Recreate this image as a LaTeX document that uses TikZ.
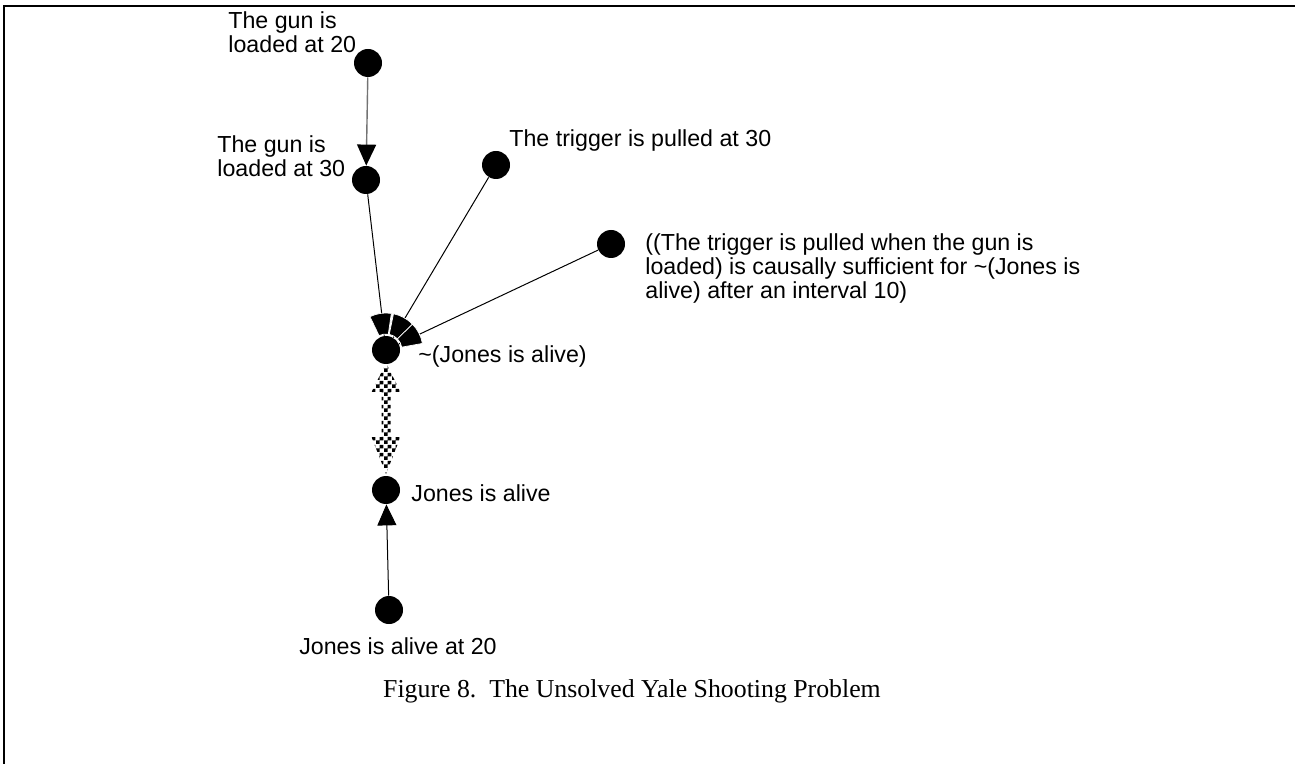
\documentclass[tikz,border=0pt]{standalone}
\usepackage{fontspec}
\setmainfont{Liberation Sans}
\newfontfamily\capfont{Liberation Serif}
\usetikzlibrary{arrows.meta,patterns,calc}
\pgfdeclarepatternformonly{sparsechecker}{\pgfpointorigin}{\pgfqpoint{4pt}{4pt}}{\pgfqpoint{4pt}{4pt}}{%
  \pgfpathrectangle{\pgfpointorigin}{\pgfqpoint{2pt}{2pt}}%
  \pgfpathrectangle{\pgfqpoint{2pt}{2pt}}{\pgfqpoint{2pt}{2pt}}%
  \pgfusepath{fill}}
\begin{document}
\begin{tikzpicture}[x=0.5pt,y=-0.5pt,
  dot/.style={circle,fill=black,minimum size=14pt,inner sep=0pt},
  lbl/.style={inner sep=0pt,font=\fontsize{11.6}{12}\selectfont,align=left},
  link/.style={draw=black,line width=0.5pt},
  graylink/.style={draw=black!55,line width=0.7pt},
  tri/.style={-{Triangle[length=10.5pt,width=9.5pt,color=black]}},
  fan/.style={fill=black,draw=white,line width=0.35pt},
  frameline/.style={line width=1pt}]
\useasboundingbox (0,0) rectangle (1295,764);
% frame
\draw[frameline] (4,764) -- (4,6) -- (1295,6);
% nodes
\node[dot] (A) at (368,63) {};
\node[dot] (B) at (366,180) {};
\node[dot] (C) at (496,165) {};
\node[dot] (D) at (611,244) {};
\node[dot] (E) at (386,350) {};
\node[dot] (F) at (386,490) {};
\node[dot] (G) at (389,610) {};
% labels
\node[lbl,anchor=west] (lA) at (228,32) {The gun is\\loaded at 20};
\node[lbl,anchor=west] (lB) at (217,156) {The gun is\\loaded at 30};
\node[lbl,anchor=west] (lC) at (509,141) {The trigger is pulled at 30};
\node[lbl,anchor=west] (lD) at (645,268) {((The trigger is pulled when the gun is\\loaded) is causally sufficient for \textasciitilde(Jones is\\alive) after an interval 10)};
\node[lbl,anchor=west] (lE) at (418,356) {\textasciitilde(Jones is alive)};
\node[lbl,anchor=west] (lF) at (411,493) {Jones is alive};
\node[lbl,anchor=center] (lG) at (398,646) {Jones is alive at 20};
\node[inner sep=0pt,font=\capfont\fontsize{12.9}{14}\selectfont] (cap) at (632,691) {Figure 8.\ \ The Unsolved Yale Shooting Problem};
% connectors
\draw[graylink,tri] (A) -- (B);
\draw[link,tri] (G) -- (F);
\draw[link] (B) -- (E);
\draw[link] (C) -- (E);
\draw[link] (D) -- (E);
% fan arrowheads at E
\begin{scope}[y=0.5pt]
\foreach \s in {B,C,D}{
  \path[fan] let \p1=($(\s)-(E)$), \n1={atan2(\y1,\x1)+2} in
    ([shift={(E)}]\n1-17:16) -- ([shift={(E)}]\n1-17:37)
    arc[start angle=\n1-17,end angle=\n1+17,radius=37]
    -- ([shift={(E)}]\n1+17:16)
    arc[start angle=\n1+17,end angle=\n1-17,radius=16] -- cycle;
}
\end{scope}
% checkered double arrow between E and F
\fill[pattern=sparsechecker,pattern color=black]
  ($(E)+(0,13)$) -- ($(E)+(14.5,42)$) -- ($(E)+(4.5,42)$) -- ($(F)+(4.5,-53)$)
  -- ($(F)+(14.5,-53)$) -- ($(F)+(0,-16)$) -- ($(F)+(-14.5,-53)$) -- ($(F)+(-4.5,-53)$)
  -- ($(E)+(-4.5,42)$) -- ($(E)+(-14.5,42)$) -- cycle;
\end{tikzpicture}
\end{document}
